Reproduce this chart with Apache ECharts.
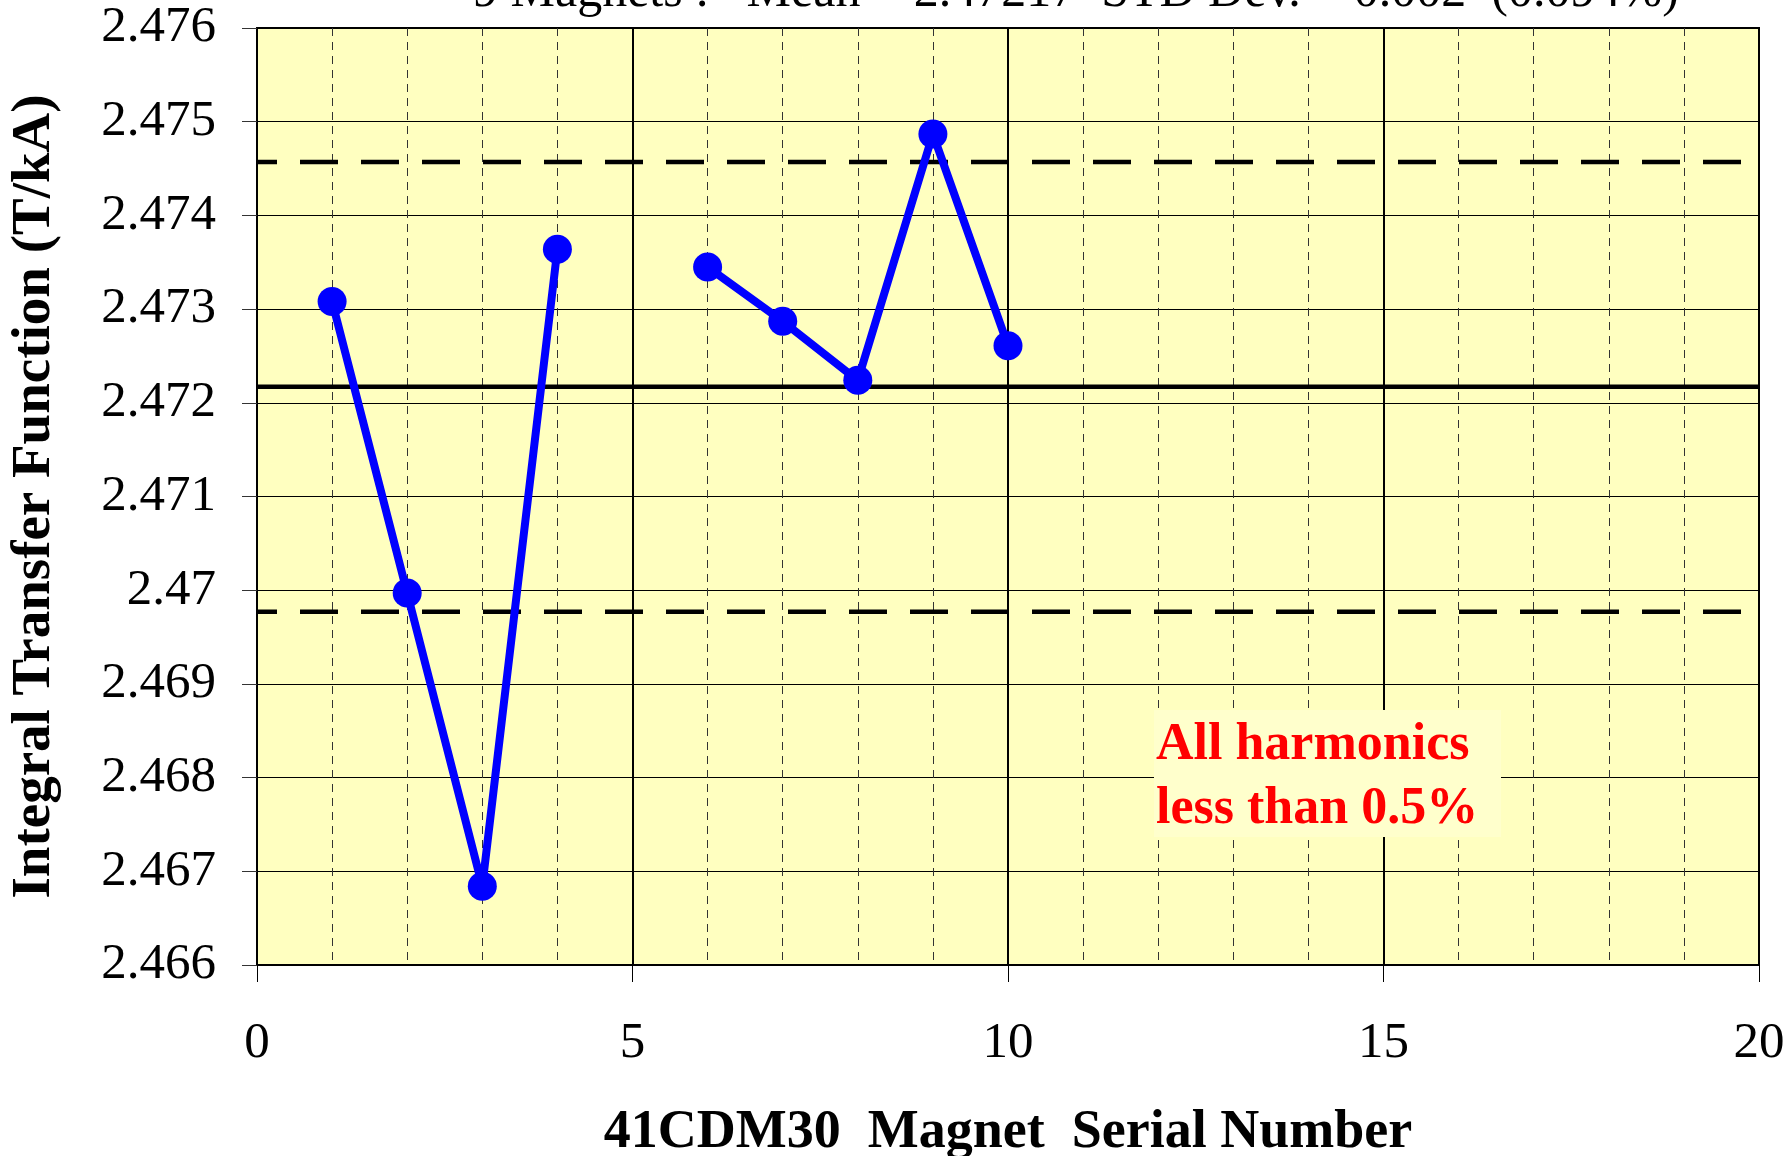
<!DOCTYPE html>
<html>
<head>
<meta charset="utf-8">
<title>41CDM30 Integral Transfer Function</title>
<script src="https://cdn.jsdelivr.net/npm/echarts@6/dist/echarts.min.js"></script>
<style>
  html, body { margin: 0; padding: 0; background: #fff; }
  #chart { width: 1789px; height: 1156px; }
</style>
</head>
<body>
<div id="chart"></div>
<script>
// magnet serial numbers (no measurement for #5)
const serials = [1, 2, 3, 4, 5, 6, 7, 8, 9, 10]
// integral transfer function, T/kA
const itf = [2.47308, 2.46997, 2.46684, 2.47364, null, 2.47345, 2.47287, 2.47224, 2.47487, 2.47261]
// mean and the two limit lines
const meanValue = 2.47217
const limitValues = [2.47457, 2.46977]
const xTicks = [0, 5, 10, 15, 20]
const yRange = [2.466, 2.476]

const FONT = "'Liberation Serif', 'Times New Roman', serif"
const xSpan = [xTicks[0], xTicks[xTicks.length - 1]]

const chart = echarts.init(document.getElementById('chart'))

// horizontal reference line across the whole x range
const refLine = (name, value, type) => ({
  name,
  type: 'line',
  data: xSpan.map((x) => [x, value]),
  symbol: 'none',
  silent: true,
  z: 3,
  lineStyle: { color: '#000', width: 4.5, type, dashOffset: 18 },
})

const option = {
  backgroundColor: '#ffffff',
  animation: false,
  title: {
    text: '9 Magnets :   Mean = 2.47217  STD Dev. = 0.002  (0.094%)',
    left: 473,
    top: -32,
    padding: 0,
    textStyle: {
      fontFamily: FONT,
      fontSize: 50,
      fontWeight: 'normal',
      color: '#000',
    },
  },
  grid: {
    left: 257,
    right: 30,
    top: 28,
    bottom: 191,
    outerBoundsMode: 'none',
    containLabel: false,
    show: true,
    backgroundColor: '#FFFFC0',
    borderColor: '#000',
    borderWidth: 2,
  },
  xAxis: {
    type: 'value',
    min: xSpan[0],
    max: xSpan[1],
    interval: 5,
    name: '41CDM30  Magnet  Serial Number',
    nameLocation: 'middle',
    nameGap: 141,
    nameTextStyle: {
      fontFamily: FONT,
      fontSize: 54,
      fontWeight: 'bold',
      color: '#000',
    },
    axisLine: { lineStyle: { color: '#000', width: 2 } },
    axisTick: { show: true, inside: false, length: 17, lineStyle: { color: '#000', width: 1 } },
    axisLabel: {
      margin: 53,
      fontFamily: FONT,
      fontSize: 51,
      color: '#000',
    },
    splitLine: { show: true, lineStyle: { color: '#000', width: 2 } },
    minorTick: { show: false, splitNumber: 5 },
    minorSplitLine: { show: true, lineStyle: { color: '#333', width: 1, type: [8, 6] } },
  },
  yAxis: {
    type: 'value',
    min: yRange[0],
    max: yRange[1],
    interval: 0.001,
    name: 'Integral Transfer Function (T/kA)',
    nameLocation: 'middle',
    nameGap: 195,
    nameTextStyle: {
      fontFamily: FONT,
      fontSize: 55,
      fontWeight: 'bold',
      color: '#000',
    },
    axisLine: { show: true, lineStyle: { color: '#000', width: 2 } },
    axisTick: { show: true, inside: false, length: 15, lineStyle: { color: '#333', width: 1 } },
    axisLabel: {
      margin: 41,
      fontFamily: FONT,
      fontSize: 51,
      color: '#000',
      formatter: (v) => String(+v.toFixed(3)),
    },
    splitLine: { show: true, lineStyle: { color: '#000', width: 1 } },
  },
  series: [
    refLine('Mean', meanValue, 'solid'),
    refLine('Upper limit', limitValues[0], [38, 23]),
    refLine('Lower limit', limitValues[1], [38, 23]),
    {
      name: 'ITF',
      type: 'line',
      data: serials.map((s, i) => [s, itf[i]]),
      connectNulls: false,
      symbol: 'circle',
      symbolSize: 29,
      z: 5,
      lineStyle: { color: '#0000FF', width: 8 },
      itemStyle: { color: '#0000FF' },
    },
  ],
  graphic: [
    {
      type: 'rect',
      z: 10,
      shape: { x: 1154, y: 710, width: 347, height: 127 },
      style: { fill: '#FFFFCC' },
    },
    {
      type: 'text',
      z: 11,
      x: 1156,
      y: 714,
      style: {
        text: 'All harmonics\nless than 0.5%',
        fontFamily: FONT,
        fontSize: 52,
        fontWeight: 'bold',
        lineHeight: 64,
        fill: '#FF0000',
        verticalAlign: 'top',
        align: 'left',
      },
    },
  ],
}

chart.setOption(option)
</script>
</body>
</html>
